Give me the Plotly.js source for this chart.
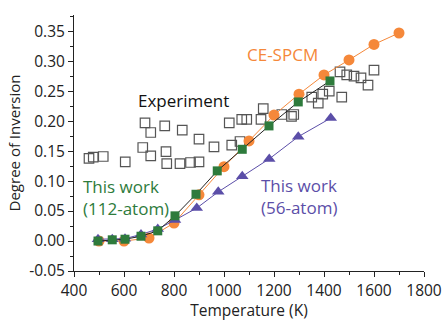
<!DOCTYPE html>
<html>
<head>
<meta charset="utf-8">
<script src="https://cdn.plot.ly/plotly-3.0.1.min.js"></script>
<style>html,body{margin:0;padding:0;background:#fff;}#chart{width:444px;height:321px;}</style>
</head>
<body>
<div id="chart"></div>
<script>
// Experiment (open squares)
const expT = [460, 477, 517, 605, 675, 684, 707, 707, 763, 768, 771, 824, 833, 866, 900, 900, 960, 1021, 1031, 1064, 1071, 1091, 1148, 1157, 1231, 1270, 1279, 1351, 1377, 1395, 1421, 1464, 1471, 1491, 1520, 1548, 1576, 1600];
const expY = [0.138, 0.140, 0.141, 0.132, 0.156, 0.197, 0.181, 0.142, 0.192, 0.149, 0.129, 0.129, 0.185, 0.131, 0.132, 0.170, 0.157, 0.197, 0.160, 0.166, 0.203, 0.203, 0.203, 0.221, 0.211, 0.208, 0.211, 0.240, 0.230, 0.245, 0.250, 0.282, 0.240, 0.277, 0.275, 0.272, 0.260, 0.285];
// CE-SPCM (orange circles)
const ceT = [500, 600, 700, 800, 900, 1000, 1100, 1200, 1300, 1400, 1500, 1600, 1700];
const ceY = [0.000, 0.000, 0.005, 0.030, 0.077, 0.124, 0.167, 0.210, 0.245, 0.277, 0.302, 0.328, 0.347];
// This work (112-atom) (green squares)
const w112T = [496, 553, 604, 668, 735, 804, 888, 973, 1073, 1180, 1297, 1424];
const w112Y = [0.000, 0.002, 0.003, 0.008, 0.017, 0.042, 0.078, 0.117, 0.153, 0.192, 0.232, 0.267];
// This work (56-atom) (purple triangles)
const w56T = [496, 553, 604, 668, 735, 804, 891, 977, 1073, 1181, 1297, 1427];
const w56Y = [0.003, 0.003, 0.004, 0.011, 0.020, 0.035, 0.055, 0.082, 0.108, 0.137, 0.174, 0.205];
// Tick labels
const xTicks = [400, 600, 800, 1000, 1200, 1400, 1600, 1800];
const yTicks = [-0.05, 0, 0.05, 0.10, 0.15, 0.20, 0.25, 0.30, 0.35];
const yTickText = ["-0.05", "0.00", "0.05", "0.10", "0.15", "0.20", "0.25", "0.30", "0.35"];

const ORANGE = '#F5883A', GREEN = '#2E7B3C', PURPLE = '#5B4EA8';
const FONT = 'Open Sans, Noto Sans, sans-serif';
const TXT = '#222';

const traces = [
  {x: expT, y: expY, mode: 'markers', type: 'scatter',
   marker: {symbol: 'square-open', size: 9.5, color: '#555', line: {width: 1.2, color: '#555'}}},
  {x: ceT, y: ceY, mode: 'lines+markers', type: 'scatter',
   line: {color: ORANGE, width: 1},
   marker: {symbol: 'circle', size: 11, color: ORANGE}},
  {x: w56T, y: w56Y, mode: 'lines+markers', type: 'scatter',
   line: {color: PURPLE, width: 1},
   marker: {symbol: 'triangle-up', size: 11, color: PURPLE}},
  {x: w112T, y: w112Y, mode: 'lines+markers', type: 'scatter',
   line: {color: '#222', width: 1},
   marker: {symbol: 'square', size: 9, color: GREEN}}
];

const layout = {
  width: 444, height: 321,
  margin: {l: 74, r: 20, t: 15, b: 50},
  paper_bgcolor: '#fff', plot_bgcolor: '#fff',
  showlegend: false,
  font: {family: FONT, size: 15, color: TXT},
  xaxis: {
    range: [400, 1800], tickmode: 'array', tickvals: xTicks,
    showgrid: false, zeroline: false, showline: true, linecolor: '#222', linewidth: 1,
    ticks: 'outside', ticklen: 5, tickcolor: '#222',
    minor: {tickmode: 'linear', tick0: 400, dtick: 100, ticks: 'outside', ticklen: 3, tickcolor: '#222', showgrid: false},
    tickfont: {size: 15.5, family: FONT, color: TXT},
    title: {text: 'Temperature (K)', font: {size: 15.5, family: FONT, color: TXT}, standoff: 6}
  },
  yaxis: {
    range: [-0.05, 0.377], tickmode: 'array', tickvals: yTicks, ticktext: yTickText,
    showgrid: false, zeroline: false, showline: true, linecolor: '#222', linewidth: 1,
    ticks: 'outside', ticklen: 5, tickcolor: '#222',
    minor: {tickmode: 'linear', tick0: -0.05, dtick: 0.025, ticks: 'outside', ticklen: 3, tickcolor: '#222', showgrid: false},
    tickfont: {size: 15.5, family: FONT, color: TXT},
    title: {text: 'Degree of Inversion', font: {size: 15, family: FONT, color: TXT}, standoff: 4}
  },
  annotations: [
    {x: 1235, y: 0.311, xref: 'x', yref: 'y', text: 'CE-SPCM', showarrow: false,
     font: {size: 17, color: ORANGE, family: FONT}},
    {x: 836, y: 0.235, xref: 'x', yref: 'y', text: 'Experiment', showarrow: false,
     font: {size: 17, color: '#111', family: FONT}},
    {x: 428, y: 0.073, xref: 'x', yref: 'y', xanchor: 'left', align: 'left',
     text: 'This work<br>(112-atom)', showarrow: false,
     font: {size: 17, color: GREEN, family: FONT}},
    {x: 1140, y: 0.075, xref: 'x', yref: 'y', xanchor: 'left', align: 'left',
     text: 'This work<br>(56-atom)', showarrow: false,
     font: {size: 17, color: PURPLE, family: FONT}}
  ]
};

Plotly.newPlot('chart', traces, layout, {staticPlot: true, displayModeBar: false});
</script>
</body>
</html>
